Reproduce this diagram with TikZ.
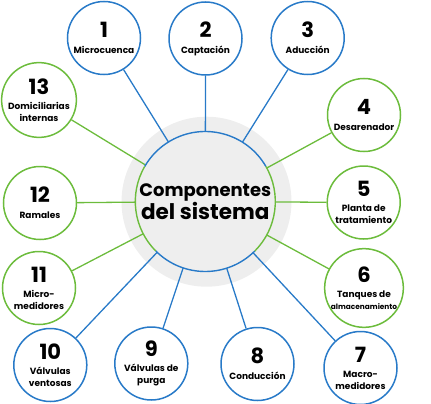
\documentclass[tikz,border=0pt]{standalone}
\usepackage{fontspec}
\setmainfont{Poppins}
\definecolor{cblue}{RGB}{40,122,200}
\definecolor{cgreen}{RGB}{108,188,60}
\definecolor{halogray}{RGB}{238,238,238}
\newcommand\mynum{\fontsize{21}{21}\selectfont\bfseries}
\newcommand\mylab{\fontsize{9}{11}\selectfont\bfseries}
\newcommand\mysmall{\fontsize{7.4}{11}\selectfont\bfseries}
\begin{document}
\begin{tikzpicture}[x=1pt,y=1pt,
  outer/.style={circle, line width=1.5pt, fill=white, minimum size=73pt, inner sep=0pt, align=center, text=black, font=\bfseries},
  bluec/.style={outer, draw=cblue},
  greenc/.style={outer, draw=cgreen},
  conb/.style={draw=cblue, line width=1.3pt},
  cong/.style={draw=cgreen, line width=1.3pt},
  arcb/.style={draw=cblue, line width=1.4pt},
  arcg/.style={draw=cgreen, line width=1.4pt}]
\useasboundingbox (0,0) rectangle (431,-404);
% halo and centre
\node[circle, fill=halogray, minimum size=170pt, inner sep=0pt] (halo) at (206.5,-201.7) {};
\node[circle, fill=halogray, minimum size=140pt, inner sep=0pt, outer sep=0pt, align=center, text=black, font=\bfseries] (ctr) at (205.3,-201.5)
  {\fontsize{18}{22}\selectfont\bfseries Componentes\\[0pt]\fontsize{21.5}{24}\selectfont\bfseries del sistema};
% outer circles
\node[bluec] (n1) at (104,-38) {\mynum 1\\[4pt]\mylab Microcuenca};
\node[bluec] (n2) at (205.5,-38.5) {\mynum 2\\[4pt]\mylab Captación};
\node[bluec] (n3) at (307.7,-38) {\mynum 3\\[4pt]\mylab Aducción};
\node[greenc] (n4) at (364,-115) {\mynum 4\\[4pt]\mylab Desarenador};
\node[greenc] (n5) at (363.7,-202.5) {\mynum 5\\[3pt]\mylab Planta de\\\mylab tratamiento};
\node[greenc] (n6) at (364,-288) {\mynum 6\\[3pt]\mylab Tanques de\\\mysmall almacenamiento};
\node[bluec] (n7) at (360.5,-368) {\mynum 7\\[3pt]\mylab Macro-\\\mylab medidores};
\node[bluec] (n8) at (257.5,-364) {\mynum 8\\[4pt]\mylab Conducción};
\node[bluec] (n9) at (151.3,-363.5) {\mynum 9\\[3pt]\mylab Válvulas de\\\mylab purga};
\node[bluec] (n10) at (50.3,-365) {\mynum 10\\[3pt]\mylab Válvulas\\\mylab ventosas};
\node[greenc] (n11) at (39,-288) {\mynum 11\\[3pt]\mylab Micro-\\\mylab medidores};
\node[greenc] (n12) at (40,-203) {\mynum 12\\[4pt]\mylab Ramales};
\node[greenc] (n13) at (39,-100) {\mynum 13\\[3pt]\mylab Domiciliarias\\\mylab internas};
% connectors
\draw[conb] (n1) -- (ctr);
\draw[conb] (n2) -- (ctr);
\draw[conb] (n3) -- (ctr);
\draw[cong] (n4) -- (ctr);
\draw[cong] (n5) -- (ctr);
\draw[cong] (n6) -- (ctr);
\draw[conb] (n7) -- (ctr);
\draw[conb] (n8) -- (ctr);
\draw[conb] (n9) -- (ctr);
\draw[conb] (n10) -- (ctr);
\draw[cong] (n11) -- (ctr);
\draw[cong] (n12) -- (ctr);
\draw[cong] (n13) -- (ctr);
% two-coloured rim of the centre circle
\draw[arcb] (ctr.30) arc[start angle=30, end angle=150, radius=70];
\draw[arcg] (ctr.150) arc[start angle=150, end angle=225, radius=70];
\draw[arcb] (ctr.225) arc[start angle=225, end angle=315, radius=70];
\draw[arcg] (ctr.315) arc[start angle=315, end angle=390, radius=70];
\end{tikzpicture}
\end{document}
